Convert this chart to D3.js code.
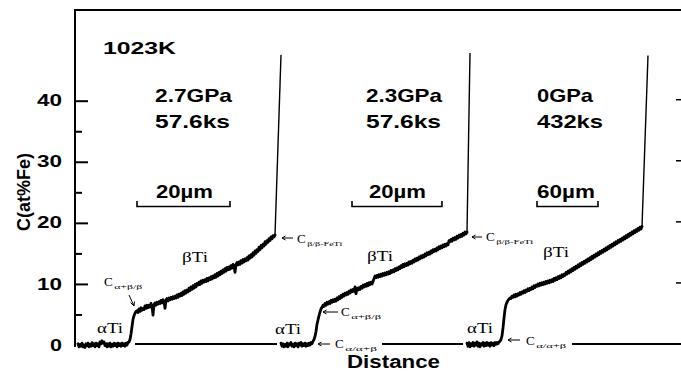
<!DOCTYPE html>
<html>
<head>
<meta charset="utf-8">
<script src="https://cdn.jsdelivr.net/npm/d3@7"></script>
<style>
  body { margin: 0; background: #fff; }
  svg { display: block; }
</style>
</head>
<body>
<svg id="chart" width="681" height="381"></svg>
<script>
// Fe concentration profiles across Ti / Fe-Ti couples annealed at 1023 K.
// Each profile: [distance (arbitrary units along the scan), C (at% Fe)]
const profile27 = [[3,0.2],[4,-0.3],[5,0.1],[6,-0.2],[7,0.3],[8,-0.3],[9,0.0],[10,-0.4],[11,0.2],[12,-0.1],[13,0.3],[14,-0.3],[15,0.1],[16,-0.2],[17,0.4],[18,-0.1],[19,0.2],[20,-0.3],[21,0.3],[22,-0.1],[23,0.2],[24,-0.3],[25,0.5],[26,0.2],[27,0.7],[28,0.3],[29,0.5],[30,-0.1],[31,0.2],[32,-0.3],[33,0.2],[34,-0.2],[35,0.3],[36,-0.3],[37,0.1],[38,-0.2],[39,0.3],[40,-0.1],[41,0.2],[42,-0.3],[43,0.3],[44,-0.1],[45,0.2],[46,-0.2],[47,0.3],[48,-0.1],[49,0.2],[50,-0.2],[51,0.3],[52,0.0],[53,0.4],[54,0.5],[55,0.9],[56,1.8],[57,3.0],[58,4.2],[59,4.8],[60,5.2],[61,5.5],
  [62,5.6],[63,5.3],[64,5.9],[65,5.5],[66,6.1],[67,5.7],[68,6.0],[69,5.8],[70,6.4],[71,6.0],[72,6.5],[73,6.1],[74,6.5],[75,6.2],[76,6.8],[77,6.4],[78,4.9],[79,6.6],[80,6.9],[81,6.5],[82,7.0],[83,6.7],[84,7.1],[85,6.8],[86,7.3],[87,6.9],[88,7.4],[89,7.1],[90,6.0],[91,7.4],[92,7.6],[93,7.2],[94,7.7],[95,7.4],[96,7.8],[97,7.5],[98,7.9],[99,7.6],[100,8.0],[101,7.7],[102,8.2],[103,7.8],[104,8.3],[105,8.0],[106,8.5],[107,8.1],[108,8.7],[109,8.3],[110,8.9],[111,8.5],[112,9.0],[113,8.7],[114,9.3],[115,8.9],[116,9.5],[117,9.1],[118,9.7],[119,9.3],[120,9.9],[121,9.5],[122,10.1],[123,9.8],[124,10.3],[125,9.9],[126,10.5],[127,10.1],[128,10.6],[129,10.3],[130,10.7],[131,10.4],[132,10.9],[133,10.5],[134,11.0],[135,10.7],[136,11.2],[137,10.8],[138,11.3],[139,11.0],[140,11.5],[141,11.1],[142,11.7],[143,11.3],[144,11.9],[145,11.5],[146,12.1],[147,11.7],[148,12.3],[149,11.9],[150,12.5],[151,12.1],[152,12.7],[153,12.3],[154,12.8],[155,12.4],[156,13.0],[157,12.6],[158,13.2],[159,12.9],[160,11.9],[161,13.2],[162,13.5],[163,13.1],[164,13.6],[165,13.2],[166,13.8],[167,13.4],[168,14.0],[169,13.6],[170,14.1],[171,13.8],[172,14.3],[173,13.9],[174,14.6],[175,14.2],[176,14.8],[177,14.4],[178,15.1],[179,14.7],[180,15.4],[181,15.0],[182,15.6],[183,15.3],[184,16.0],[185,15.6],[186,16.3],[187,15.9],[188,16.5],[189,16.2],[190,16.9],[191,16.5],[192,17.1],[193,16.8],[194,17.4],[195,17.1],[196,17.7],[197,17.4],[198,17.9],[199,17.7],[200,18.0]];
const profile23 = [[206,0.3],[207,-0.2],[208,0.2],[209,-0.3],[210,0.1],[211,-0.2],[212,0.3],[213,-0.3],[214,0.2],[215,0.0],[216,0.4],[217,-0.2],[218,0.1],[219,-0.3],[220,0.3],[221,-0.1],[222,0.2],[223,-0.3],[224,0.3],[225,0.0],[226,0.4],[227,-0.2],[228,0.2],[229,-0.1],[230,0.3],[231,-0.2],[232,0.2],[233,-0.1],[234,0.3],[235,0.0],[236,0.4],[237,0.2],[238,0.6],[239,0.9],[240,1.4],[241,2.2],[242,3.4],[243,4.1],[244,4.8],[245,5.4],[246,5.9],[247,6.2],[248,6.5],
  [249,6.3],[250,6.8],[251,6.5],[252,7.0],[253,6.7],[254,7.1],[255,6.8],[256,7.3],[257,7.0],[258,7.4],[259,7.1],[260,7.5],[261,7.2],[262,7.7],[263,7.4],[264,7.9],[265,7.6],[266,8.1],[267,7.8],[268,8.3],[269,8.0],[270,8.5],[271,8.2],[272,8.6],[273,8.3],[274,8.8],[275,8.5],[276,9.0],[277,8.7],[278,9.1],[279,8.8],[280,9.5],[281,8.4],[282,9.3],[283,9.0],[284,9.4],[285,9.1],[286,9.6],[287,9.3],[288,9.8],[289,9.5],[290,9.9],[291,9.6],[292,10.1],[293,9.7],[294,10.2],[295,9.9],[296,10.3],[297,10.0],[298,10.4],[299,10.9],[300,11.3],[301,11.0],[302,11.4],[303,11.1],[304,11.5],[305,11.2],[306,11.6],[307,11.3],[308,11.7],[309,11.4],[310,11.8],[311,11.5],[312,11.9],[313,11.6],[314,12.0],[315,11.7],[316,12.2],[317,11.9],[318,12.3],[319,12.0],[320,12.5],[321,12.2],[322,12.6],[323,12.3],[324,12.8],[325,12.5],[326,13.0],[327,12.7],[328,13.2],[329,12.8],[330,13.3],[331,13.0],[332,13.4],[333,13.1],[334,13.6],[335,13.3],[336,13.7],[337,13.4],[338,13.9],[339,13.6],[340,14.1],[341,13.8],[342,14.2],[343,13.9],[344,14.4],[345,14.1],[346,14.6],[347,14.3],[348,14.7],[349,14.4],[350,14.9],[351,14.6],[352,15.1],[353,14.8],[354,15.2],[355,14.9],[356,15.4],[357,15.1],[358,15.6],[359,15.3],[360,15.7],[361,15.4],[362,15.9],[363,15.6],[364,16.1],[365,15.8],[366,16.2],[367,15.9],[368,16.4],[369,16.1],[370,16.5],[371,16.2],[372,16.6],[373,16.4],[374,17.1],[375,16.9],[376,17.3],[377,17.0],[378,17.5],[379,17.2],[380,17.6],[381,17.3],[382,17.8],[383,17.5],[384,18.0],[385,17.7],[386,18.1],[387,17.8],[388,18.3],[389,18.0],[390,18.5],[391,18.2],[392,18.5]];
const profile0 = [[392,0.3],[393,-0.2],[394,0.4],[395,-0.3],[396,0.2],[397,-0.1],[398,0.4],[399,-0.2],[400,0.3],[401,0.0],[402,0.5],[403,-0.2],[404,0.3],[405,-0.3],[406,0.2],[407,0.0],[408,0.4],[409,-0.2],[410,0.3],[411,-0.1],[412,0.4],[413,0.0],[414,0.3],[415,-0.2],[416,0.4],[417,0.0],[418,0.3],[419,-0.1],[420,0.4],[421,0.1],[422,0.4],[423,0.2],[424,0.5],[425,0.6],[426,0.9],[427,1.5],[428,2.8],[429,4.4],[430,5.8],[431,6.6],[432,7.0],[433,7.3],[434,7.5],[435,7.7],
  [436,7.6],[437,8.0],[438,7.8],[439,8.2],[440,7.9],[441,8.3],[442,8.0],[443,8.4],[444,8.2],[445,8.6],[446,8.3],[447,8.7],[448,8.5],[449,8.9],[450,8.6],[451,9.0],[452,8.8],[453,9.2],[454,8.9],[455,9.3],[456,9.1],[457,9.5],[458,9.2],[459,9.7],[460,9.4],[461,9.8],[462,9.6],[463,10.0],[464,9.7],[465,10.1],[466,9.8],[467,10.2],[468,9.9],[469,10.3],[470,10.0],[471,10.4],[472,10.1],[473,10.5],[474,10.2],[475,10.6],[476,10.3],[477,10.7],[478,10.4],[479,10.9],[480,10.6],[481,11.0],[482,10.7],[483,11.2],[484,10.9],[485,11.3],[486,11.0],[487,11.5],[488,11.2],[489,11.6],[490,11.4],[491,11.9],[492,11.6],[493,12.1],[494,11.8],[495,12.3],[496,12.0],[497,12.5],[498,12.2],[499,12.7],[500,12.4],[501,12.9],[502,12.6],[503,13.1],[504,12.8],[505,13.3],[506,13.0],[507,13.5],[508,13.2],[509,13.7],[510,13.4],[511,13.9],[512,13.6],[513,14.1],[514,13.8],[515,14.3],[516,14.0],[517,14.5],[518,14.2],[519,14.7],[520,14.4],[521,14.9],[522,14.6],[523,15.1],[524,14.8],[525,15.3],[526,15.0],[527,15.5],[528,15.2],[529,15.7],[530,15.4],[531,15.9],[532,15.6],[533,16.1],[534,15.8],[535,16.3],[536,16.0],[537,16.5],[538,16.2],[539,16.7],[540,16.4],[541,16.9],[542,16.6],[543,17.1],[544,16.8],[545,17.3],[546,17.0],[547,17.5],[548,17.2],[549,17.7],[550,17.4],[551,17.9],[552,17.6],[553,18.1],[554,17.8],[555,18.3],[556,18.0],[557,18.5],[558,18.2],[559,18.7],[560,18.4],[561,18.9],[562,18.6],[563,19.1],[564,18.8],[565,19.3],[566,19.0],[567,19.4]];
// steep rise into the FeTi layer at the end of each scan
const spikeTops = [[206,47.5],[395,47.8],[573,47.4]];

const pressures = ["2.7GPa", "2.3GPa", "0GPa"];
const times = ["57.6ks", "57.6ks", "432ks"];
const scaleBarLabels = ["20µm", "20µm", "60µm"];
const temperatureLabel = "1023K";

const yMajorTicks = [10, 20, 30, 40];
const yMinorTicks = [5, 15, 25, 35];
const yTickLabels = [0, 10, 20, 30, 40];
// stretches of the zero line left visible between the scans
const baselineSpans = [[60, 202], [307, 388], [497, 606]];

const svg = d3.select("#chart");
const x = d3.scaleLinear().domain([0, 606]).range([75, 681]);
const y = d3.scaleLinear().domain([0, 55]).range([345, 345 - 55 * 6.1075]);

const SANS = "'Liberation Sans', Arial, Helvetica, sans-serif";
const SERIF = "'Liberation Serif', 'Times New Roman', serif";

// frame: left axis and top rule
svg.append("line").attr("x1", 75).attr("x2", 75).attr("y1", 9).attr("y2", 347)
  .attr("stroke", "#000").attr("stroke-width", 2);
svg.append("line").attr("x1", 74).attr("x2", 681).attr("y1", 10).attr("y2", 10)
  .attr("stroke", "#000").attr("stroke-width", 2);

// left axis ticks (inward)
const gMajor = svg.append("g").attr("transform", "translate(75,0)")
  .call(d3.axisLeft(y).tickValues(yMajorTicks).tickSize(-13).tickFormat(""));
const gMinor = svg.append("g").attr("transform", "translate(75,0)")
  .call(d3.axisLeft(y).tickValues(yMinorTicks).tickSize(-7).tickFormat(""));
[gMajor, gMinor].forEach(g => {
  g.select(".domain").remove();
  g.selectAll(".tick line").attr("stroke", "#000").attr("stroke-width", 2);
});

// tick labels
const gLab = svg.append("g").attr("transform", "translate(75,0)")
  .call(d3.axisLeft(y).tickValues(yTickLabels).tickSize(0).tickPadding(13).tickFormat(d3.format("d")));
gLab.select(".domain").remove();
gLab.selectAll(".tick text")
  .attr("font-family", SANS).attr("font-weight", "bold").attr("font-size", 16)
  .attr("fill", "#000")
  .attr("textLength", d => d === 0 ? 12 : 25).attr("lengthAdjust", "spacingAndGlyphs");

// right-edge ticks
const gRight = svg.append("g").attr("transform", "translate(681,0)")
  .call(d3.axisLeft(y).tickValues(yMajorTicks).tickSize(5).tickFormat(""));
gRight.select(".domain").remove();
gRight.selectAll(".tick line").attr("stroke", "#000").attr("stroke-width", 1.5)
  .attr("transform", "translate(0,-1.5)");

// zero line between scans
baselineSpans.forEach(([a, b]) => {
  svg.append("line").attr("x1", x(a)).attr("x2", x(b)).attr("y1", y(0) - 1).attr("y2", y(0) - 1)
    .attr("stroke", "#000").attr("stroke-width", 2);
});

// concentration profiles
const line = d3.line().x(d => x(d[0])).y(d => y(d[1]));
[profile27, profile23, profile0].forEach((p, i) => {
  svg.append("path").attr("d", line(p)).attr("fill", "none")
    .attr("stroke", "#000").attr("stroke-width", 2.8)
    .attr("stroke-linejoin", "round").attr("stroke-linecap", "round");
  svg.append("path").attr("d", line([p[p.length - 1], spikeTops[i]])).attr("fill", "none")
    .attr("stroke", "#000").attr("stroke-width", 1.4);
});

// bold sans labels
function sansText(str, px, py, size, width) {
  svg.append("text").attr("x", px).attr("y", py)
    .attr("font-family", SANS).attr("font-weight", "bold").attr("font-size", size)
    .attr("fill", "#000")
    .attr("textLength", width).attr("lengthAdjust", "spacingAndGlyphs")
    .text(str);
}
sansText(temperatureLabel, 103, 54, 15.8, 73);

const condLayout = [
  { x: 155, w1: 77, w2: 75, bx: 156, bw: 57, bar: [137, 230] },
  { x: 366, w1: 76, w2: 75, bx: 369, bw: 57, bar: [352, 442] },
  { x: 537, w1: 56, w2: 66, bx: 537, bw: 58, bar: [537, 598] }
];
condLayout.forEach((c, i) => {
  sansText(pressures[i], c.x, 102, 18.5, c.w1);
  sansText(times[i], c.x, 128, 18.5, c.w2);
  sansText(scaleBarLabels[i], c.bx, 198, 18.5, c.bw);
  const [b0, b1] = c.bar;
  svg.append("path")
    .attr("d", `M${b0},201V206.5H${b1}V201`)
    .attr("fill", "none").attr("stroke", "#000").attr("stroke-width", 1.6);
});

// axis titles
svg.append("text").attr("transform", "translate(30,192) rotate(-90)")
  .attr("text-anchor", "middle")
  .attr("font-family", SANS).attr("font-weight", "bold").attr("font-size", 18)
  .attr("fill", "#000").text("C(at%Fe)");
sansText("Distance", 347, 368, 18, 93);

// phase labels
function phaseText(str, px, py) {
  svg.append("text").attr("x", px).attr("y", py)
    .attr("font-family", SERIF).attr("font-size", 14).attr("fill", "#000")
    .attr("textLength", 26).attr("lengthAdjust", "spacingAndGlyphs")
    .text(str);
}
phaseText("αTi", 97, 333);
phaseText("βTi", 182, 262);
phaseText("αTi", 275, 334);
phaseText("βTi", 367, 261);
phaseText("αTi", 467, 333);
phaseText("βTi", 543, 257);

// boundary concentration labels
function cLabel(sub, px, py, subW) {
  const t = svg.append("text").attr("x", px).attr("y", py)
    .attr("font-family", SERIF).attr("fill", "#000");
  t.append("tspan").attr("font-size", 13).text("C");
  t.append("tspan").attr("font-size", 7).attr("dx", 1.5).attr("dy", 2.5)
    .attr("textLength", subW).attr("lengthAdjust", "spacingAndGlyphs").text(sub);
}
function leftArrow(x1, x2, py) {
  svg.append("path").attr("d", `M${x2},${py}H${x1}M${x1 + 3.5},${py - 2}L${x1},${py}L${x1 + 3.5},${py + 2}`)
    .attr("fill", "none").attr("stroke", "#000").attr("stroke-width", 1);
}

cLabel("α+β/β", 104, 286, 28);
svg.append("path").attr("d", "M129,295L134,306M130.5,302.5L134,306L134.5,301.5")
  .attr("fill", "none").attr("stroke", "#000").attr("stroke-width", 1);

leftArrow(282, 293, 238); cLabel("β/β-FeTi", 297, 243, 35);
leftArrow(323, 338, 312); cLabel("α+β/β", 341, 316, 30);
leftArrow(318, 330, 344); cLabel("α/α+β", 335, 348, 32);
leftArrow(472, 482, 237); cLabel("β/β-FeTi", 486, 241, 37);
leftArrow(508, 520, 340); cLabel("α/α+β", 526, 345, 30);
</script>
</body>
</html>
